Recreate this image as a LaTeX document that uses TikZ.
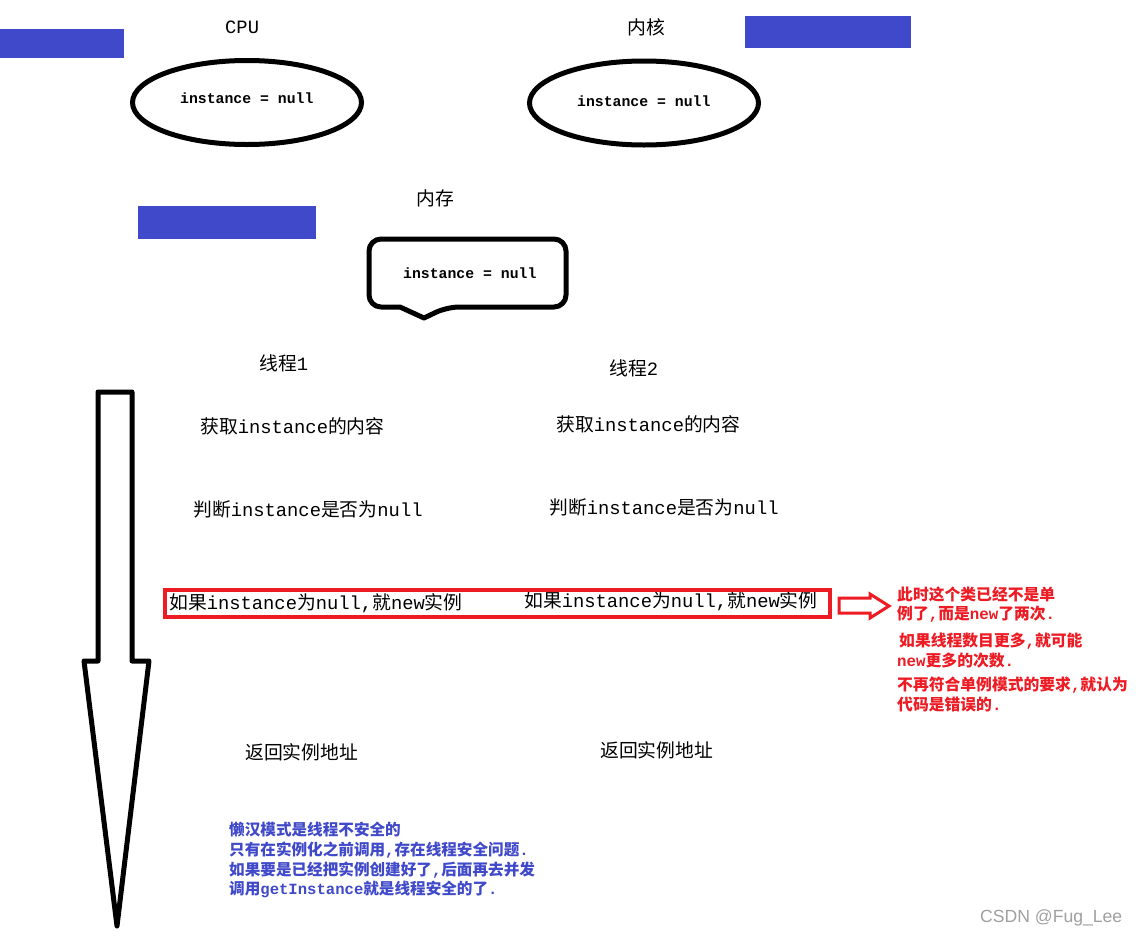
\documentclass[tikz,border=0pt]{standalone}
\usepackage{fontspec}
\setmainfont{Noto Sans CJK SC}
\newfontfamily\latt{Liberation Mono}
\newfontfamily\wmfont{Liberation Sans}
\usetikzlibrary{shapes.geometric}
\definecolor{myblue}{RGB}{64,73,201}
\definecolor{myred}{RGB}{237,28,36}
\definecolor{wmgray}{RGB}{160,160,160}
\newcommand{\Lt}[1]{{\latt #1}}
\begin{document}
\begin{tikzpicture}[x=1pt,y=-1pt,
  txt/.style={inner sep=0pt, anchor=west, font=\fontsize{18.8}{22}\selectfont},
  codetxt/.style={inner sep=0pt, anchor=west, font=\latt\bfseries\fontsize{14.8}{18}\selectfont},
  redtxt/.style={inner sep=0pt, anchor=west, text=myred, font=\bfseries\fontsize{15.8}{20}\selectfont},
  bluetxt/.style={inner sep=0pt, anchor=west, text=myblue, font=\bfseries\fontsize{15.6}{20}\selectfont},
  blk/.style={line width=5pt},
  oval/.style={draw, ellipse, blk, inner sep=0pt, minimum width=229pt, minimum height=84pt}
]
\useasboundingbox (0,0) rectangle (1138,938);
\fill[white] (0,0) rectangle (1138,938);

% blue bars
\fill[myblue] (0,29) rectangle (124,58);
\fill[myblue] (745,16) rectangle (911,48);
\fill[myblue] (138,206) rectangle (316,239);

% titles
\node[txt] (tcpu) at (225,27) {\Lt{CPU}};
\node[txt] (tcore) at (627,27) {内核};
\node[txt] (tmem) at (416,198) {内存};

% ellipses
\node[oval] (cpu) at (247,102.5) {};
\node[codetxt] (cpuv) at (180,98) {instance = null};
\node[oval] (core) at (644,103) {};
\node[codetxt] (corev) at (577,101) {instance = null};

% memory callout
\draw[blk, line join=round, rounded corners=12pt]
  (400,307) -| (369,239) -| (566,307) -- (447,307) [sharp corners] -- (424,318) -- cycle;
\node[codetxt] (memv) at (403,273) {instance = null};

% threads
\node[txt] (th1) at (259,363) {线程\Lt{1}};
\node[txt] (th2) at (609,368) {线程\Lt{2}};

\node[txt] (a1) at (200,426) {获取\Lt{instance}的内容};
\node[txt] (a2) at (556,424) {获取\Lt{instance}的内容};
\node[txt] (b1) at (193,509) {判断\Lt{instance}是否为\Lt{null}};
\node[txt] (b2) at (549,507) {判断\Lt{instance}是否为\Lt{null}};
\node[txt] (c1) at (169,603) {如果\Lt{instance}为\Lt{null,}就\Lt{new}实例};
\node[txt] (c2) at (524,601) {如果\Lt{instance}为\Lt{null,}就\Lt{new}实例};
\node[txt] (d1) at (245,752) {返回实例地址};
\node[txt] (d2) at (600,750) {返回实例地址};

% red box
\draw[myred, line width=4pt] (165,590) rectangle (830,617);

% red hollow arrow
\draw[myred, line width=3pt, line join=miter]
  (839,598) -- (870,598) -- (870,594) -- (889,606) -- (870,618) -- (870,613) -- (839,613) -- cycle;

% red notes
\node[redtxt] (r1) at (897,594) {此时这个类已经不是单};
\node[redtxt] (r2) at (897,614) {例了\Lt{,}而是\Lt{new}了两次\Lt{.}};
\node[redtxt] (r3) at (899,641) {如果线程数目更多\Lt{,}就可能};
\node[redtxt] (r4) at (897,661) {\Lt{new}更多的次数\Lt{.}};
\node[redtxt] (r5) at (897,685) {不再符合单例模式的要求\Lt{,}就认为};
\node[redtxt] (r6) at (897,705) {代码是错误的\Lt{.}};

% blue notes
\node[bluetxt] (n1) at (229,830) {懒汉模式是线程不安全的};
\node[bluetxt] (n2) at (229,850) {只有在实例化之前调用\Lt{,}存在线程安全问题\Lt{.}};
\node[bluetxt] (n3) at (229,870) {如果要是已经把实例创建好了\Lt{,}后面再去并发};
\node[bluetxt] (n4) at (229,889) {调用\Lt{getInstance}就是线程安全的了\Lt{.}};

% big black arrow
\draw[blk, line join=round]
  (98,392) -- (132,392) -- (132,661) -- (149,661) -- (117,926) -- (84,661) -- (98,661) -- cycle;

% watermark
\node[inner sep=0pt, anchor=west, text=wmgray, font=\wmfont\fontsize{17.6}{20}\selectfont] (wm) at (980,918) {CSDN @Fug\_Lee};
\end{tikzpicture}
\end{document}
